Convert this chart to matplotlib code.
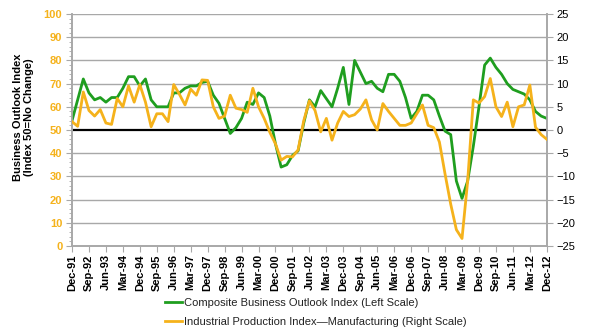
import numpy as np
import matplotlib.pyplot as plt
from matplotlib.ticker import MultipleLocator

plt.rcParams['font.family'] = ['Liberation Sans', 'DejaVu Sans']

# quarterly readings, Dec-91 .. Dec-12
outlook = [54, 63, 72, 66, 63, 64, 62, 64, 64, 68,
           73, 73, 69, 72, 63, 60, 60, 60, 66, 66,
           68, 69, 69, 70.5, 71, 65, 61.5, 55, 48.5, 51,
           55, 62, 61, 66, 64, 56, 44, 34, 35, 39,
           41, 53, 63, 60, 67, 63.5, 60, 68, 77, 61,
           80, 75, 70, 71, 68, 66.5, 74, 74, 71, 64,
           55, 58, 65, 65, 63, 56, 49.5, 48, 28, 20.5,
           28, 43, 60, 78, 81, 77, 74, 70, 67.5, 66.5,
           65.5, 63, 58, 56, 55]
production = [1.8, 0.8, 8.2, 4.2, 3.0, 4.4, 1.5, 1.2, 6.8, 5.0,
              9.5, 6.0, 9.8, 6.0, 0.7, 3.5, 3.5, 1.8, 9.8, 7.7,
              5.4, 8.8, 7.5, 10.8, 10.7, 5.0, 2.5, 3.0, 7.5, 4.7,
              4.4, 3.8, 9.0, 5.0, 2.5, -0.5, -3.0, -6.5, -5.7, -5.8,
              -4.3, 2.0, 6.3, 4.2, -0.4, 2.5, -2.2, 1.5, 4.0, 2.9,
              3.3, 4.5, 6.5, 2.2, 0.0, 5.7, 4.0, 2.5, 1.0, 1.0,
              1.5, 3.5, 5.4, 1.0, 0.5, -2.6, -9.5, -16, -21.5, -23.4,
              -11, 6.5, 5.8, 7.2, 11.1, 5.0, 2.9, 6.0, 0.7, 5.0,
              5.4, 9.7, 0.6, -1.0, -2.0]
tick_labels = ["Dec-91", "Sep-92", "Jun-93", "Mar-94", "Dec-94", "Sep-95",
               "Jun-96", "Mar-97", "Dec-97", "Sep-98", "Jun-99", "Mar-00",
               "Dec-00", "Sep-01", "Jun-02", "Mar-03", "Dec-03", "Sep-04",
               "Jun-05", "Mar-06", "Dec-06", "Sep-07", "Jun-08", "Mar-09",
               "Dec-09", "Sep-10", "Jun-11", "Mar-12", "Dec-12"]

green = "#1f9e1f"
gold = "#f5b21b"
grid_c = "#a8a8a8"

x = np.arange(len(outlook))

fig = plt.figure(figsize=(5.95, 3.35), dpi=100)
ax = fig.add_axes([0.121, 0.266, 0.798, 0.692])
ax2 = ax.twinx()

for v in range(10, 101, 10):
    if v != 50:
        ax.axhline(v, color=grid_c, lw=1.0, zorder=0)
ax.axhline(50, color="black", lw=1.6, zorder=1)

l1, = ax.plot(x, outlook, color=green, lw=2.0, zorder=3)
l2, = ax2.plot(x, production, color=gold, lw=2.0, zorder=3)

ax.set_xlim(0, len(outlook) - 1)
ax.set_ylim(0, 100)
ax2.set_ylim(-25, 25)

ax.set_xticks(x[::3])
ax.set_xticklabels(tick_labels, rotation=90, fontsize=8, fontweight="bold")
ax.set_yticks(range(0, 101, 10))
ax.yaxis.set_minor_locator(MultipleLocator(2))
ax2.set_yticks(range(-25, 26, 5))

ax.tick_params(axis="y", colors=grid_c, labelcolor=gold, labelsize=8,
               length=4, pad=3)
ax.tick_params(axis="y", which="minor", colors=grid_c, length=2)
for t in ax.get_yticklabels():
    t.set_fontweight("bold")
ax.tick_params(axis="x", colors=grid_c, labelcolor="black", length=4, pad=2)
ax2.tick_params(axis="y", colors=grid_c, labelcolor="black", labelsize=8,
                length=4, pad=3)

for a in (ax, ax2):
    a.spines["top"].set_visible(False)
    for s in ("left", "right", "bottom"):
        a.spines[s].set_color(grid_c)
        a.spines[s].set_linewidth(1.2)

fig.text(0.04, 0.65, "Business Outlook Index\n(Index 50=No Change)",
         rotation=90, ha="center", va="center", fontsize=8,
         fontweight="bold", linespacing=1.1)

fig.legend([l1, l2],
           ["Composite Business Outlook Index (Left Scale)",
            "Industrial Production Index\u2014Manufacturing (Right Scale)"],
           loc="lower left", bbox_to_anchor=(0.26, -0.005), frameon=False,
           fontsize=8, handlelength=1.6, handletextpad=0.1,
           labelspacing=0.75, labelcolor="#222222")

fig.savefig("out.png", dpi=100)
